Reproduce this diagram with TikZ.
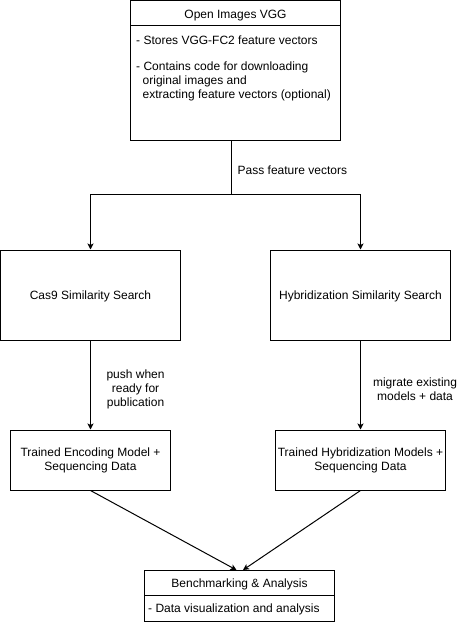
\documentclass[tikz,border=0pt]{standalone}
\usepackage{fontspec}
\setmainfont{Liberation Sans}
\usetikzlibrary{positioning,arrows.meta,calc}

\begin{document}
\begin{tikzpicture}[x=1pt,y=-1pt,>={Stealth[length=6pt,width=6pt,inset=1.5pt]},
  every node/.style={font=\fontsize{12}{14}\selectfont,inner sep=0pt},
  txt/.style={text height=8.6pt,text depth=0pt},
  box/.style={draw,line width=1pt,align=center},
  lbl/.style={align=center},
  link/.style={line width=1pt}]
\useasboundingbox (0,0) rectangle (460,626);
% source box
\node[box,minimum width=210pt,minimum height=139.5pt] (vgg) at (235.5,70.75) {};
\node[txt] (vggtitle) at (235.5,14) {Open Images VGG};
\coordinate (vggsep) at (0,25.7);
\draw[link] (vgg.west |- vggsep) -- (vgg.east |- vggsep);
\node[txt,anchor=west] (vggstore) at (136,40.7) {- Stores VGG-FC2 feature vectors};
\node[align=left,anchor=north west] (vggcode) at (136,61.4) {- Contains code for downloading\\\hspace{6.5pt}original images and\\\hspace{6.5pt}extracting feature vectors (optional)};
% search boxes
\node[box,txt,minimum width=180pt,minimum height=90pt] (cas) at (90.5,295) {Cas9 Similarity Search};
\node[box,txt,minimum width=180pt,minimum height=90pt] (hyb) at (360.5,295) {Hybridization Similarity Search};
% model boxes
\node[box,minimum width=160pt,minimum height=60pt] (enc) at (90.5,460) {Trained Encoding Model +\\Sequencing Data};
\node[box,minimum width=170pt,minimum height=60pt] (hmod) at (360.5,460) {Trained Hybridization Models +\\Sequencing Data};
% benchmark box
\node[box,minimum width=190pt,minimum height=51pt] (bench) at (239.5,596) {};
\node[txt] (benchtitle) at (239.5,583) {Benchmarking \& Analysis};
\coordinate (benchsep) at (0,595.5);
\draw[link] (bench.west |- benchsep) -- (bench.east |- benchsep);
\node[txt,anchor=west] (benchbody) at (148,608) {- Data visualization and analysis};
% connectors
\coordinate (split) at (231.7,194.3);
\draw[link] (vgg.south -| split) -- node[txt,right=5.5pt,pos=0.55] (pass) {Pass feature vectors} (split);
\draw[link,->] (split) -| (cas.north);
\draw[link,->] (split) -| (hyb.north);
\draw[link,->] (cas.south) -- node[lbl,right=15.5pt,pos=0.55] (push) {push when\\ready for\\publication} (enc.north);
\draw[link,->] (hyb.south) -- node[lbl,right=12pt,pos=0.55] (migrate) {migrate existing\\models + data} (hmod.north);
\draw[link,->] (enc.south) -- ([xshift=-3pt]bench.north);
\draw[link,->] (hmod.south) -- ([xshift=3.5pt]bench.north);
\end{tikzpicture}
\end{document}
